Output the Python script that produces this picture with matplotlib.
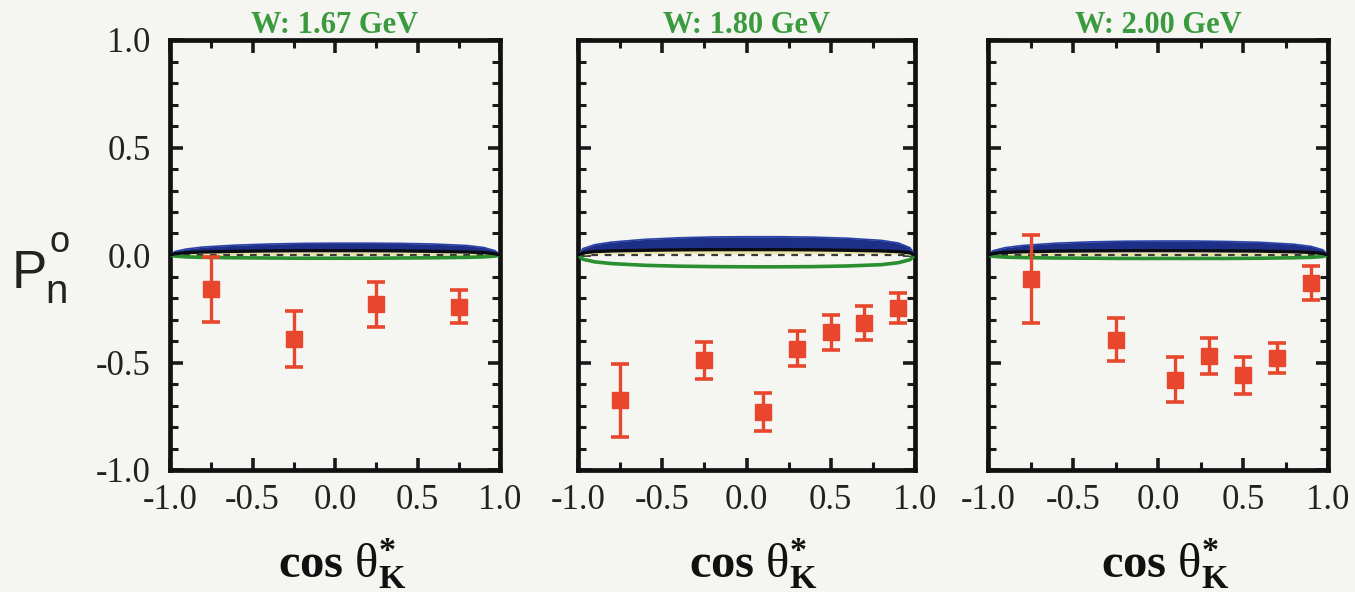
import matplotlib
matplotlib.use("Agg")
import matplotlib.pyplot as plt
from matplotlib.ticker import MultipleLocator, FixedLocator

plt.rcParams["mathtext.fontset"] = "custom"
plt.rcParams["mathtext.rm"] = "Liberation Serif"
plt.rcParams["mathtext.it"] = "Liberation Serif:italic"
plt.rcParams["mathtext.bf"] = "Liberation Serif:bold"

# ---------------- data ----------------
titles = ["W: 1.67 GeV", "W: 1.80 GeV", "W: 2.00 GeV"]

x1 = [-0.75, -0.25, 0.25, 0.75]
y1 = [-0.16, -0.39, -0.23, -0.24]
e1 = [0.15, 0.13, 0.105, 0.075]

x2 = [-0.75, -0.25, 0.1, 0.3, 0.5, 0.7, 0.9]
y2 = [-0.675, -0.49, -0.73, -0.435, -0.36, -0.315, -0.245]
e2 = [0.17, 0.085, 0.09, 0.08, 0.08, 0.08, 0.07]

x3 = [-0.75, -0.25, 0.1, 0.3, 0.5, 0.7, 0.9]
y3 = [-0.11, -0.395, -0.58, -0.47, -0.56, -0.48, -0.13]
e3 = [0.205, 0.10, 0.105, 0.085, 0.085, 0.07, 0.08]

model_x = [-1.0, -0.97, -0.9, -0.8, -0.6, -0.4, -0.2, 0.0, 0.2, 0.4, 0.6, 0.8, 0.9, 0.97, 1.0]
# upper edge of blue band, black model curve, yellow curve, green curve
bluetop1 = [0.0, 0.016, 0.028, 0.037, 0.046, 0.051, 0.054, 0.055, 0.055, 0.054, 0.051, 0.044, 0.035, 0.020, 0.0]
black1 = [0.0, 0.006, 0.011, 0.014, 0.017, 0.019, 0.020, 0.020, 0.020, 0.019, 0.017, 0.014, 0.011, 0.006, 0.0]
yellow1 = [0.0, 0.001, 0.002, 0.003, 0.004, 0.004, 0.004, 0.004, 0.004, 0.004, 0.004, 0.003, 0.002, 0.001, 0.0]
green1 = [0.0, -0.005, -0.009, -0.011, -0.013, -0.014, -0.015, -0.015, -0.015, -0.014, -0.013, -0.011, -0.009, -0.005, 0.0]

bluetop2 = [0.0, 0.030, 0.048, 0.060, 0.073, 0.080, 0.084, 0.085, 0.085, 0.083, 0.078, 0.068, 0.056, 0.034, 0.0]
black2 = [0.0, 0.010, 0.016, 0.019, 0.022, 0.024, 0.025, 0.025, 0.025, 0.024, 0.022, 0.019, 0.016, 0.010, 0.0]
yellow2 = [0.0, 0.004, 0.008, 0.010, 0.011, 0.012, 0.012, 0.012, 0.012, 0.012, 0.011, 0.010, 0.008, 0.004, 0.0]
green2 = [0.0, -0.020, -0.032, -0.040, -0.048, -0.052, -0.054, -0.055, -0.055, -0.054, -0.051, -0.045, -0.036, -0.022, 0.0]

bluetop3 = [0.0, 0.020, 0.034, 0.044, 0.055, 0.061, 0.064, 0.065, 0.065, 0.063, 0.059, 0.050, 0.040, 0.024, 0.0]
black3 = [0.0, 0.007, 0.012, 0.015, 0.018, 0.019, 0.020, 0.020, 0.020, 0.019, 0.018, 0.015, 0.012, 0.007, 0.0]
yellow3 = [0.0, 0.000, 0.001, 0.002, 0.002, 0.002, 0.002, 0.002, 0.002, 0.002, 0.002, 0.002, 0.001, 0.000, 0.0]
green3 = [0.0, -0.006, -0.010, -0.012, -0.014, -0.015, -0.016, -0.016, -0.016, -0.016, -0.015, -0.013, -0.011, -0.007, 0.0]

xticks = [-1.0, -0.5, 0.0, 0.5, 1.0]
xticklabels = ["-1.0", "-0.5", "0.0", "0.5", "1.0"]
yticks = [-1.0, -0.5, 0.0, 0.5, 1.0]
yticklabels = ["-1.0", "-0.5", "0.0", "0.5", "1.0"]

# ---------------- style ----------------
BG = "#f5f6f1"
RED = "#e8472e"
GREEN = "#3a9a3e"
BLUE = "#1e2f88"
SERIF = ["Liberation Serif", "DejaVu Serif"]

fig = plt.figure(figsize=(13.55, 5.92), dpi=100, facecolor=BG)

lefts = [170, 578, 988]
widths = [330, 337, 340]
W, H = 1355.0, 592.0
bottom = 1 - 470 / H
height = (470 - 40) / H

data = [(x1, y1, e1, bluetop1, black1, yellow1, green1),
        (x2, y2, e2, bluetop2, black2, yellow2, green2),
        (x3, y3, e3, bluetop3, black3, yellow3, green3)]

for i in range(3):
    ax = fig.add_axes([lefts[i] / W, bottom, widths[i] / W, height])
    ax.set_facecolor(BG)
    xs, ys, es, bt, bk, ye, gr = data[i]

    ax.plot(model_x, ye, color="#ece6a8", lw=2.2, zorder=2)
    ax.plot([-1, 1], [0, 0], color="#3a3a3a", lw=1.6, ls=(0, (3, 3)), zorder=3)
    ax.plot(model_x, gr, color="#2a8f30", lw=2.6, zorder=3)
    ax.fill_between(model_x, bk, bt, color=BLUE, lw=0, zorder=4)
    ax.plot(model_x, bt, color="#2b43a8", lw=1.2, zorder=4)
    ax.plot(model_x, bk, color="#0b0b14", lw=2.4, zorder=5)

    ax.errorbar(xs, ys, yerr=es, fmt="s", color=RED, ecolor=RED,
                markersize=12, elinewidth=2.4, capsize=6.5, capthick=2.6,
                zorder=6)

    ax.set_xlim(-1, 1)
    ax.set_ylim(-1, 1)
    ax.xaxis.set_major_locator(FixedLocator(xticks))
    ax.yaxis.set_major_locator(FixedLocator(yticks))
    ax.xaxis.set_minor_locator(MultipleLocator(0.25))
    ax.yaxis.set_minor_locator(MultipleLocator(0.1))
    ax.tick_params(which="both", direction="in", top=True, right=True,
                   color="#1a1a1a")
    ax.tick_params(which="major", length=9, width=2.6)
    ax.tick_params(which="minor", length=5.5, width=2.2)
    ax.set_xticklabels(xticklabels, fontfamily=SERIF, fontsize=25,
                       color="#222222")
    ax.tick_params(axis="x", pad=10)
    if i == 0:
        ax.set_yticklabels(yticklabels, fontfamily=SERIF, fontsize=25,
                           color="#222222")
        ax.tick_params(axis="y", pad=14)
    else:
        ax.set_yticklabels([])
    for s in ax.spines.values():
        s.set_linewidth(3.4)
        s.set_color("#111111")

    ax.set_title(titles[i], fontfamily=SERIF, fontweight="bold",
                 fontsize=22, color=GREEN, pad=3)

    cx = (lefts[i] + widths[i] / 2 + 7) / W
    fig.text(cx, 1 - 578 / H,
             r"$\mathbf{cos}\ \mathrm{\theta}^{\mathbf{*}}_{\mathbf{K}}$",
             ha="center", va="baseline", fontsize=35, color="#111111")

# y-axis label P_n^o
fig.text(12 / W, 1 - 288 / H, "P", fontfamily="Liberation Sans",
         fontsize=38, color="#222222", ha="left", va="baseline")
fig.text(45 / W, 1 - 303 / H, "n", fontfamily="Liberation Sans",
         fontsize=29, color="#222222", ha="left", va="baseline")
fig.text(49 / W, 1 - 252 / H, "o", fontfamily="Liberation Sans",
         fontsize=26, color="#222222", ha="left", va="baseline")

fig.savefig("out.png", dpi=100, facecolor=BG)
